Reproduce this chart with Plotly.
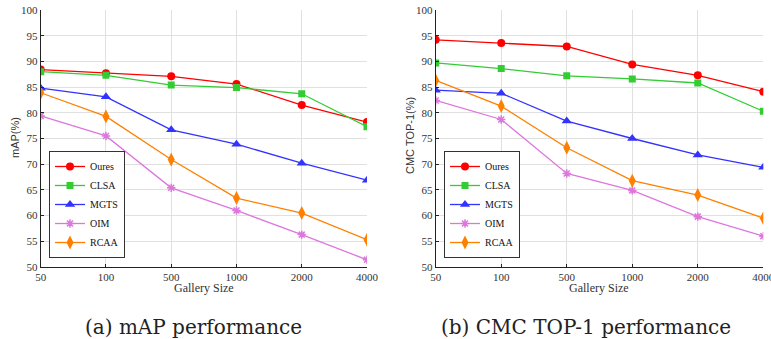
import plotly.graph_objects as go

gallery = ["50", "100", "500", "1000", "2000", "4000"]
methods = ["Oures", "CLSA", "MGTS", "OIM", "RCAA"]

map_oures = [88.4, 87.7, 87.1, 85.6, 81.5, 78.2]
map_clsa = [88.0, 87.3, 85.4, 84.9, 83.7, 77.3]
map_mgts = [84.8, 83.1, 76.7, 73.9, 70.2, 66.9]
map_oim = [79.4, 75.5, 65.4, 61.0, 56.3, 51.4]
map_rcaa = [83.9, 79.3, 70.9, 63.4, 60.5, 55.3]

cmc_oures = [94.2, 93.6, 92.9, 89.4, 87.3, 84.1]
cmc_clsa = [89.7, 88.6, 87.2, 86.6, 85.8, 80.3]
cmc_mgts = [84.4, 83.8, 78.4, 75.0, 71.8, 69.4]
cmc_oim = [82.4, 78.7, 68.2, 64.9, 59.8, 56.0]
cmc_rcaa = [86.3, 81.3, 73.2, 66.8, 64.0, 59.5]

y_ticks = [50, 55, 60, 65, 70, 75, 80, 85, 90, 95, 100]

colors = ["#FF0000", "#33CC33", "#3333FF", "#DD77DD", "#FF8000"]
symbols = ["circle", "square", "triangle-up", "asterisk-open", "diamond-tall"]
sizes = [8, 7, 9, 7, 10]

xpos = list(range(len(gallery)))

fig = go.Figure()

panels = [
    ([map_oures, map_clsa, map_mgts, map_oim, map_rcaa], "x", "y", "legend"),
    ([cmc_oures, cmc_clsa, cmc_mgts, cmc_oim, cmc_rcaa], "x2", "y2", "legend2"),
]

for series, xa, ya, lg in panels:
    for name, vals, c, s, sz in zip(methods, series, colors, symbols, sizes):
        fig.add_trace(go.Scatter(
            x=xpos, y=vals, name=name, mode="lines+markers",
            xaxis=xa, yaxis=ya, legend=lg,
            line=dict(color=c, width=1.3),
            marker=dict(symbol=s, size=sz, color=c,
                        line=dict(color=c, width=1.5 if s.startswith("asterisk") else 0)),
        ))

tickfont = dict(family="Liberation Serif", size=11, color="#333")
xcommon = dict(tickvals=xpos, ticktext=gallery, range=[0, 5], showgrid=True,
               gridcolor="#e0e0e0", gridwidth=1, zeroline=False, showline=True,
               linecolor="#222", linewidth=1, ticks="inside", ticklen=3,
               tickcolor="#222", tickfont=tickfont, automargin=False,
               ticklabeloverflow="allow")
ycommon = dict(tickvals=y_ticks, range=[50, 100], showgrid=True,
               gridcolor="#e0e0e0", gridwidth=1, zeroline=False, showline=True,
               linecolor="#222", linewidth=1, ticks="inside", ticklen=3,
               tickcolor="#222", tickfont=tickfont, automargin=False)

W, H = 771, 339
yd = [1 - 267 / H, 1 - 10 / H]

legend_common = dict(
    font=dict(family="Liberation Serif", size=10, color="#111"),
    bgcolor="white", bordercolor="#333", borderwidth=1,
    xanchor="left", yanchor="bottom", tracegroupgap=0, itemwidth=30,
)

fig.update_layout(
    width=W, height=H, margin=dict(l=0, r=0, t=0, b=0, pad=0, autoexpand=False),
    paper_bgcolor="white", plot_bgcolor="white",
    xaxis=dict(domain=[40.7 / W, 367 / W], anchor="y", **xcommon),
    yaxis=dict(domain=yd, anchor="x", **ycommon),
    xaxis2=dict(domain=[435.7 / W, 763.3 / W], anchor="y2", **xcommon),
    yaxis2=dict(domain=yd, anchor="x2", **ycommon),
    legend=dict(x=49 / W, y=1 - 258 / H, **legend_common),
    legend2=dict(x=444 / W, y=1 - 258 / H, **legend_common),
    showlegend=True,
)

ann = [
    dict(text="Gallery Size", x=203.5 / W, y=1 - 288 / H, font=dict(family="Liberation Serif", size=12, color="#333")),
    dict(text="Gallery Size", x=599 / W, y=1 - 288 / H, font=dict(family="Liberation Serif", size=12, color="#333")),
    dict(text="mAP(%)", x=15 / W, y=1 - 138 / H, textangle=-90, font=dict(family="Liberation Sans", size=11, color="#333")),
    dict(text="CMC TOP-1(%)", x=410 / W, y=1 - 136 / H, textangle=-90, font=dict(family="Liberation Sans", size=11, color="#333")),
    dict(text="(a) mAP performance", x=193 / W, y=1 - 327 / H, font=dict(family="DejaVu Serif", size=20, color="#222")),
    dict(text="(b) CMC TOP-1 performance", x=586 / W, y=1 - 327 / H, font=dict(family="DejaVu Serif", size=20, color="#222")),
]
for a in ann:
    fig.add_annotation(xref="paper", yref="paper", showarrow=False,
                       xanchor="center", yanchor="middle", **a)

fig.write_html("out.html")
